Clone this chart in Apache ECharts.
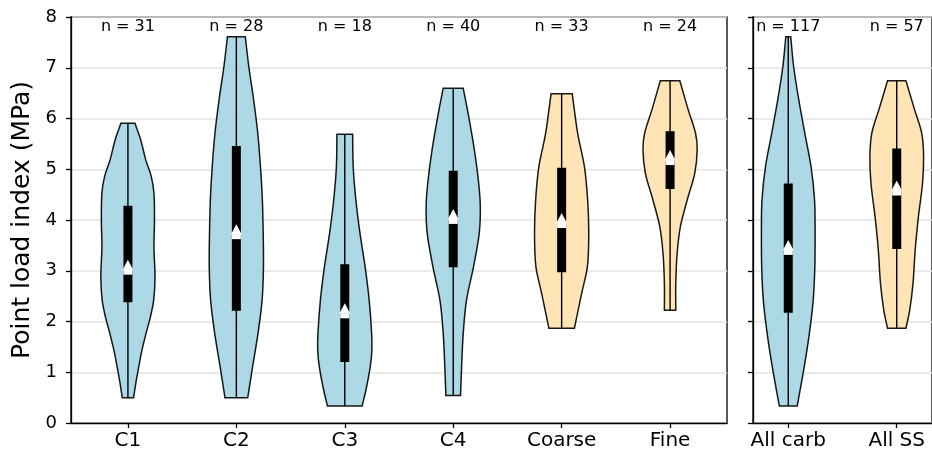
<!DOCTYPE html>
<html><head><meta charset="utf-8">
<script src="https://cdn.jsdelivr.net/npm/echarts@6/dist/echarts.min.js"></script>
<style>html,body{margin:0;padding:0;background:#fff}#c{width:932px;height:452px}</style>
</head><body><div id="c"></div>
<script>
// ---------- data ----------
const categories = ['C1', 'C2', 'C3', 'C4', 'Coarse', 'Fine'];
const categories2 = ['All carb', 'All SS'];
const lithology = ['carb', 'carb', 'carb', 'carb', 'ss', 'ss'];
const lithology2 = ['carb', 'ss'];
const counts = [31, 28, 18, 40, 33, 24];
const counts2 = [117, 57];
const yTicks = [0, 1, 2, 3, 4, 5, 6, 7, 8];

// quartiles / mean
const q1 = [2.38, 2.21, 1.20, 3.07, 2.97, 4.61];
const q3 = [4.28, 5.46, 3.13, 4.97, 5.03, 5.75];
const means = [3.10, 3.80, 2.24, 4.10, 4.02, 5.26];
const q1b = [2.17, 3.43];
const q3b = [4.72, 5.41];
const meansB = [3.49, 4.66];

// violin outlines: value levels (min .. max) and relative density (max = 1)
const levels = [
  [0.50, 0.78, 1.11, 1.44, 1.77, 2.09, 2.42, 2.88, 3.47, 4.00, 4.53, 4.86, 5.18, 5.58, 5.905],
  [0.50, 1.11, 1.77, 2.42, 3.08, 3.74, 4.39, 5.05, 5.71, 6.36, 7.02, 7.61],
  [0.335, 0.65, 1.11, 1.44, 1.77, 2.42, 3.08, 3.74, 4.39, 5.05, 5.69],
  [0.54, 1.11, 1.77, 2.42, 3.08, 3.74, 4.26, 4.72, 5.38, 6.04, 6.595],
  [1.865, 2.56, 3.08, 3.74, 4.39, 5.05, 5.71, 6.49],
  [2.22, 2.75, 3.34, 3.87, 4.39, 4.92, 5.38, 5.71, 6.17, 6.745]
];
const density = [
  [0.21, 0.29, 0.40, 0.52, 0.67, 0.83, 0.95, 1.00, 0.96, 0.98, 0.96, 0.86, 0.66, 0.47, 0.26],
  [0.42, 0.60, 0.80, 0.95, 1.00, 0.99, 0.96, 0.89, 0.79, 0.64, 0.46, 0.33],
  [0.64, 0.78, 0.94, 1.00, 0.99, 0.90, 0.75, 0.56, 0.41, 0.31, 0.29],
  [0.27, 0.31, 0.37, 0.49, 0.75, 0.96, 1.00, 0.94, 0.78, 0.57, 0.37],
  [0.47, 0.74, 0.95, 1.00, 0.96, 0.84, 0.59, 0.39],
  [0.21, 0.21, 0.26, 0.38, 0.63, 0.91, 1.00, 0.94, 0.67, 0.36]
];
const levels2 = [
  [0.335, 1.11, 1.77, 2.42, 3.08, 3.74, 4.39, 5.05, 5.71, 6.36, 7.02, 7.61],
  [1.865, 2.23, 2.75, 3.41, 4.07, 4.72, 5.25, 5.71, 6.17, 6.745]
];
const density2 = [
  [0.33, 0.59, 0.78, 0.92, 0.98, 0.99, 0.97, 0.84, 0.61, 0.39, 0.20, 0.09],
  [0.34, 0.48, 0.60, 0.68, 0.80, 0.95, 0.99, 0.92, 0.66, 0.34]
];

// ---------- styling ----------
const FILL = { carb: '#a4d4e3', ss: '#ffe1ad' };
const HALF_WIDTH = 0.25;   // violin half width in axis units
const N_LABEL_Y = 7.8;
const FONT = 'DejaVu Sans';

// smooth side of the outline: x as a function of y (Hermite -> cubic Bezier)
function sideSegments(pts) {
  const n = pts.length;
  const slope = pts.map((p, k) => {
    const a = pts[Math.max(k - 1, 0)], b = pts[Math.min(k + 1, n - 1)];
    return (b[0] - a[0]) / (b[1] - a[1]);
  });
  let d = '';
  for (let k = 0; k < n - 1; k++) {
    const p1 = pts[k], p2 = pts[k + 1];
    const dy = p2[1] - p1[1];
    const c1 = [p1[0] + slope[k] * dy / 3, p1[1] + dy / 3];
    const c2 = [p2[0] - slope[k + 1] * dy / 3, p2[1] - dy / 3];
    d += ' C' + c1[0] + ',' + c1[1] + ' ' + c2[0] + ',' + c2[1] + ' ' + p2[0] + ',' + p2[1];
  }
  return d;
}

function makeRender(lv, dens, lq, uq, mn, cnt, lith) {
  return function (params, api) {
    const i = params.dataIndex;
    const L = lv[i], D = dens[i];
    const right = L.map((y, k) => api.coord([i + HALF_WIDTH * D[k], y]));
    const left = L.map((y, k) => api.coord([i - HALF_WIDTH * D[k], y])).reverse();
    const d = 'M' + right[0][0] + ',' + right[0][1] + sideSegments(right) +
      ' L' + left[0][0] + ',' + left[0][1] + sideSegments(left) + ' Z';
    const bot = api.coord([i, L[0]]);
    const top = api.coord([i, L[L.length - 1]]);
    const b1 = api.coord([i, lq[i]]);
    const b3 = api.coord([i, uq[i]]);
    const m = api.coord([i, mn[i]]);
    const t = api.coord([i, N_LABEL_Y]);
    const bw = 9;
    return {
      type: 'group',
      children: [
        { type: 'path', shape: { pathData: d },
          style: { fill: FILL[lith[i]], stroke: '#000', lineWidth: 1.5, opacity: 0.9 } },
        { type: 'line', shape: { x1: bot[0], y1: bot[1], x2: top[0], y2: top[1] },
          style: { stroke: '#000', lineWidth: 1.4 } },
        { type: 'rect', shape: { x: b1[0] - bw / 2, y: b3[1], width: bw, height: b1[1] - b3[1] },
          style: { fill: '#000' } },
        { type: 'rect', shape: { x: m[0] - bw / 2, y: m[1] + 4, width: bw, height: 5 },
          style: { fill: '#fff' } },
        { type: 'polygon', shape: { points: [[m[0], m[1] - 6], [m[0] - 5.5, m[1] + 4.5], [m[0] + 5.5, m[1] + 4.5]] },
          style: { fill: '#fff' } },
        { type: 'text', x: t[0], y: t[1],
          style: { text: 'n = ' + cnt[i], fill: '#000', fontSize: 16, fontFamily: FONT,
                   align: 'center', verticalAlign: 'middle' } }
      ]
    };
  };
}

const axisLineStyle = { show: true, onZero: false, lineStyle: { color: '#000', width: 1.3 } };
const tickStyle = { show: true, length: 5, inside: false, lineStyle: { color: '#000', width: 1.3 } };

const chart = echarts.init(document.getElementById('c'), null, { renderer: 'canvas' });
chart.setOption({
  animation: false,
  backgroundColor: '#fff',
  textStyle: { fontFamily: FONT },
  grid: [
    { left: 71, top: 17, width: 656, height: 406, show: true, borderColor: '#000', borderWidth: 1.3, backgroundColor: 'transparent' },
    { left: 753, top: 17, width: 188, height: 406, show: true, borderColor: '#000', borderWidth: 1.3, backgroundColor: 'transparent' }
  ],
  xAxis: [
    { gridIndex: 0, type: 'value', min: -0.525, max: 5.525, splitLine: { show: false },
      axisLine: axisLineStyle,
      axisTick: Object.assign({ customValues: categories.map((c, k) => k) }, tickStyle),
      axisLabel: { customValues: categories.map((c, k) => k), formatter: v => categories[Math.round(v)],
                   color: '#000', fontSize: 20, fontFamily: FONT, margin: 8 } },
    { gridIndex: 1, type: 'value', min: -0.325, max: 1.325, splitLine: { show: false },
      axisLine: axisLineStyle,
      axisTick: Object.assign({ customValues: categories2.map((c, k) => k) }, tickStyle),
      axisLabel: { customValues: categories2.map((c, k) => k), formatter: v => categories2[Math.round(v)],
                   color: '#000', fontSize: 20, fontFamily: FONT, margin: 8 } }
  ],
  yAxis: [
    { gridIndex: 0, type: 'value', min: yTicks[0], max: yTicks[yTicks.length - 1], interval: 1,
      name: 'Point load index (MPa)', nameLocation: 'middle', nameGap: 36,
      nameTextStyle: { fontSize: 25, color: '#000', fontFamily: FONT },
      axisLine: axisLineStyle, axisTick: tickStyle,
      axisLabel: { color: '#000', fontSize: 18, fontFamily: FONT, margin: 14 },
      splitLine: { show: true, lineStyle: { color: '#e3e3e3', width: 1.5 } } },
    { gridIndex: 1, type: 'value', min: yTicks[0], max: yTicks[yTicks.length - 1], interval: 1,
      axisLine: axisLineStyle, axisTick: tickStyle, axisLabel: { show: false },
      splitLine: { show: true, lineStyle: { color: '#e3e3e3', width: 1.5 } } }
  ],
  series: [
    { type: 'custom', xAxisIndex: 0, yAxisIndex: 0, clip: false,
      data: categories.map((c, k) => [k, means[k]]), encode: { x: 0, y: 1 },
      renderItem: makeRender(levels, density, q1, q3, means, counts, lithology) },
    { type: 'custom', xAxisIndex: 1, yAxisIndex: 1, clip: false,
      data: categories2.map((c, k) => [k, meansB[k]]), encode: { x: 0, y: 1 },
      renderItem: makeRender(levels2, density2, q1b, q3b, meansB, counts2, lithology2) }
  ]
});
</script></body></html>
